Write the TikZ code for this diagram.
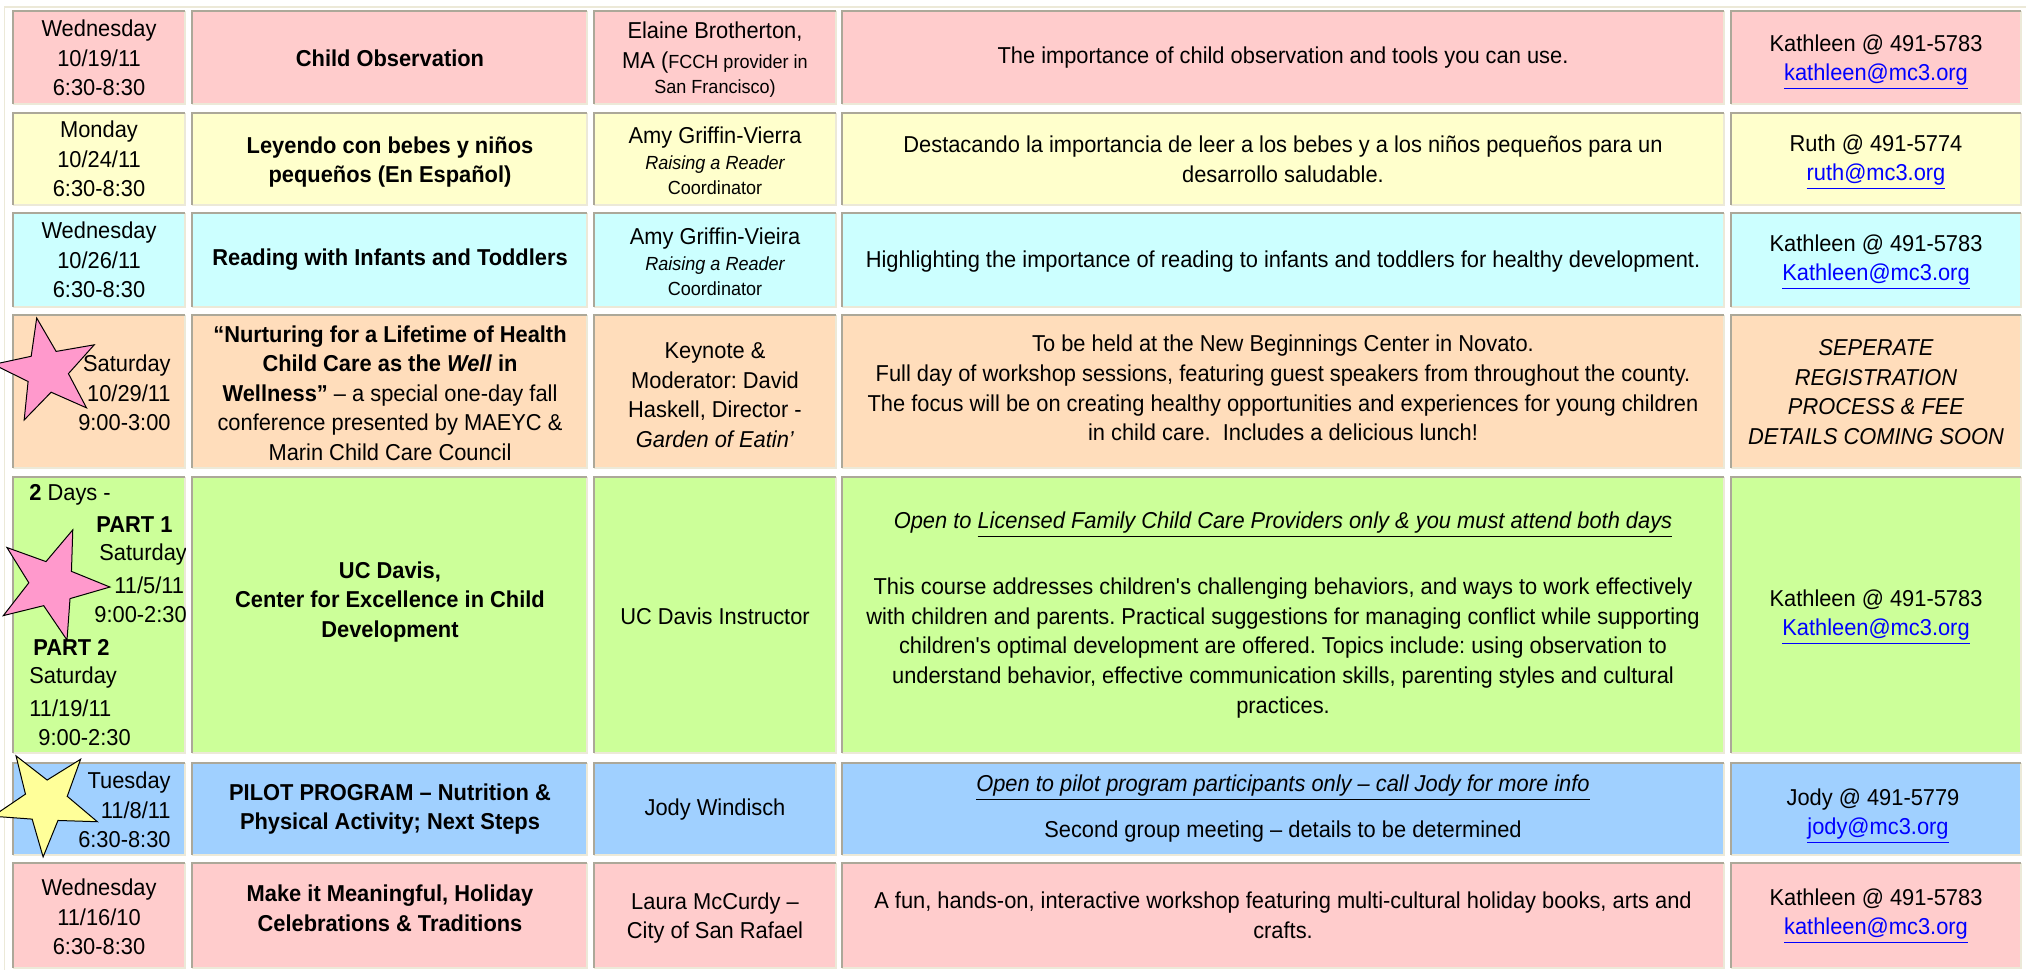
\documentclass[tikz,border=0pt]{standalone}
\usepackage{fontspec}
\setmainfont{Liberation Sans}[FakeStretch=0.95]
\usetikzlibrary{shapes.geometric}
\frenchspacing

\definecolor{rosebg}{HTML}{FFCCCC}
\definecolor{creambg}{HTML}{FFFFCC}
\definecolor{aquabg}{HTML}{CCFFFF}
\definecolor{peachbg}{HTML}{FFDDBB}
\definecolor{limebg}{HTML}{CCFF99}
\definecolor{skybg}{HTML}{A0D0FF}
\definecolor{insetdark}{HTML}{ACA899}
\definecolor{insetlight}{HTML}{ECE9D8}
\definecolor{starpink}{HTML}{FF99CC}
\definecolor{staryellow}{HTML}{FFFF99}
\definecolor{mailblue}{HTML}{0000FF}

\newcommand{\rowfont}{\fontsize{11.5}{14.8}\selectfont}
\newcommand{\smallfont}{\fontsize{9.5}{12}\selectfont}
\newcommand{\mail}[1]{\textcolor{mailblue}{\underline{#1}}}

\begin{document}
\begin{tikzpicture}[x=0.5pt, y=-0.5pt,
		every node/.style={inner sep=0pt, font=\rowfont},
		txt/.style={align=center},
		bold/.style={align=center, font=\rowfont\bfseries},
		slant/.style={align=center, font=\rowfont\itshape},
		tag/.style={anchor=west},
		flag/.style={star, star points=5, star point ratio=2.5, draw=black, line width=0.5pt}]
	\useasboundingbox (0, 0) rectangle (2026, 970);
	\draw[insetlight, line width=0.75pt] (4.5, 970) -- (4.5, 7) -- (2026, 7);

	\foreach \ya/\yb/\tint in {11/104/rosebg, 113/205/creambg, 213/307/aquabg, 315/468/peachbg, 477/753/limebg, 763/855/skybg, 863/968/rosebg}
		\foreach \xa/\xb in {13/185, 192/587, 594/836, 842/1724, 1731/2021} {
			\fill[\tint] (\xa, \ya) rectangle (\xb, \yb);
			\draw[insetlight, line width=0.75pt] (\xa, \yb) -- (\xb, \yb) -- (\xb, \ya);
			\draw[insetdark, line width=0.75pt] (\xa, \yb) -- (\xa, \ya) -- (\xb, \ya);
		}

	\node[txt] (when1) at (99, 58) {Wednesday\\10/19/11\\6:30-8:30};
	\node[bold] (topic1) at (390, 58) {Child Observation};
	\node[txt] (who1) at (715, 60) {Elaine Brotherton,\\MA ({\smallfont FCCH provider in}\\[-2pt]{\smallfont San Francisco)}};
	\node[txt] (what1) at (1283, 58) {The importance of child observation and tools you can use.};
	\node[txt] (call1) at (1876, 62) {Kathleen @ 491-5783\\\mail{kathleen@mc3.org}};

	\node[txt] (when2) at (99, 159) {Monday\\10/24/11\\6:30-8:30};
	\node[bold] (topic2) at (390, 162) {Leyendo con bebes y niños\\pequeños (En Español)};
	\node[txt] (who2) at (715, 161) {Amy Griffin-Vierra\\[-2pt]{\smallfont\itshape Raising a Reader}\\[-2pt]{\smallfont Coordinator}};
	\node[txt] (what2) at (1283, 159) {Destacando la importancia de leer a los bebes y a los niños pequeños para un\\desarrollo saludable.};
	\node[txt] (call2) at (1876, 162) {Ruth @ 491-5774\\\mail{ruth@mc3.org}};

	\node[txt] (when3) at (99, 260) {Wednesday\\10/26/11\\6:30-8:30};
	\node[bold] (topic3) at (390, 260) {Reading with Infants and Toddlers};
	\node[txt] (who3) at (715, 262) {Amy Griffin-Vieira\\[-2pt]{\smallfont\itshape Raising a Reader}\\[-2pt]{\smallfont Coordinator}};
	\node[txt] (what3) at (1283, 262) {Highlighting the importance of reading to infants and toddlers for healthy development.};
	\node[txt] (call3) at (1876, 262) {Kathleen @ 491-5783\\\mail{Kathleen@mc3.org}};

	\node[txt, align=right, anchor=east] (when4) at (171, 393) {Saturday\\10/29/11\\9:00-3:00};
	\node[txt] (topic4) at (390, 393) {\textbf{“Nurturing for a Lifetime of Health}\\\textbf{Child Care as the \textit{Well} in}\\\textbf{Wellness”} – a special one-day fall\\conference presented by MAEYC \&\\Marin Child Care Council};
	\node[txt] (who4) at (715, 395) {Keynote \&\\Moderator: David\\Haskell, Director -\\\textit{Garden of Eatin’}};
	\node[txt] (what4) at (1283, 388) {To be held at the New Beginnings Center in Novato.\\Full day of workshop sessions, featuring guest speakers from throughout the county.\\The focus will be on creating healthy opportunities and experiences for young children\\in child care.\ \ Includes a delicious lunch!};
	\node[slant] (call4) at (1876, 392) {SEPERATE\\REGISTRATION\\PROCESS \& FEE\\DETAILS COMING SOON};

	\begin{scope}
		\clip (13, 477) rectangle (185, 753);
		\foreach \i/\tx/\ty/\entry in {a/29/495/{\textbf{2} Days -}, b/96/525/{\textbf{PART 1}}, c/99/555/{Saturday}, d/114/585/{11/5/11}, e/94/615/{9:00-2:30}, f/33/647/{\textbf{PART 2}}, g/29/678/{Saturday}, h/29/708/{11/19/11}, i/38/738/{9:00-2:30}}
			\node[tag] (when5\i) at (\tx, \ty) {\entry};
	\end{scope}
	\node[bold] (topic5) at (390, 602) {UC Davis,\\Center for Excellence in Child\\Development};
	\node[txt] (who5) at (715, 616) {UC Davis Instructor};
	\node[slant] (what5a) at (1283, 525) {Open to \underline{Licensed Family Child Care Providers only \& you must attend both days}};
	\node[txt] (what5b) at (1283, 648) {This course addresses children\textquotesingle s challenging behaviors, and ways to work effectively\\with children and parents. Practical suggestions for managing conflict while supporting\\children\textquotesingle s optimal development are offered. Topics include: using observation to\\understand behavior, effective communication skills, parenting styles and cultural\\practices.};
	\node[txt] (call5) at (1876, 617) {Kathleen @ 491-5783\\\mail{Kathleen@mc3.org}};

	\node[txt, align=right, anchor=east] (when6) at (171, 810) {Tuesday\\11/8/11\\6:30-8:30};
	\node[bold] (topic6) at (390, 809) {PILOT PROGRAM – Nutrition \&\\Physical Activity; Next Steps};
	\node[txt] (who6) at (715, 810) {Jody Windisch};
	\node[slant] (what6a) at (1283, 788) {\underline{Open to pilot program participants only – call Jody for more info}};
	\node[txt] (what6b) at (1283, 832) {Second group meeting – details to be determined};
	\node[txt] (call6) at (1873, 816) {Jody @ 491-5779\\\hspace*{5pt}\mail{jody@mc3.org}};

	\node[txt] (when7) at (99, 917) {Wednesday\\11/16/10\\6:30-8:30};
	\node[bold] (topic7) at (390, 908) {Make it Meaningful, Holiday\\Celebrations \& Traditions};
	\node[txt] (who7) at (715, 918) {Laura McCurdy –\\City of San Rafael};
	\node[txt] (what7) at (1283, 915) {A fun, hands-on, interactive workshop featuring multi-cultural holiday books, arts and\\crafts.};
	\node[txt] (call7) at (1876, 916) {Kathleen @ 491-5783\\\mail{kathleen@mc3.org}};

	\node[flag, fill=starpink, minimum size=54pt, shape border rotate=11] (star4) at (47, 371) {};
	\node[flag, fill=starpink, minimum size=58pt, shape border rotate=-21] (star5) at (52, 584) {};
	\node[flag, fill=staryellow, minimum size=55pt, shape border rotate=-39] (star6) at (46, 802) {};
\end{tikzpicture}
\end{document}
